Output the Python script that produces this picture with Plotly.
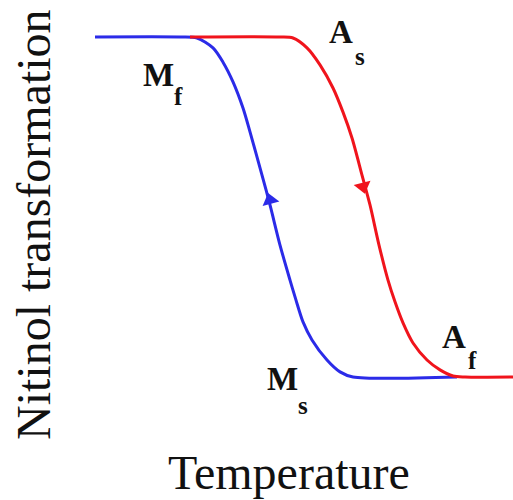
import plotly.graph_objects as go

# Cooling curve (martensite formation): temperature (arbitrary units), transformed fraction 0..1
cool_temp = [95, 180, 197, 213, 223, 233, 243, 250, 262, 270, 280, 290, 296, 303, 312, 327, 340, 353, 457]
cool_frac = [1.0, 1.0, 0.997, 0.968, 0.926, 0.868, 0.791, 0.721, 0.594, 0.506, 0.388, 0.285,
             0.226, 0.162, 0.109, 0.050, 0.015, 0.0, 0.0]

# Heating curve (austenite formation)
heat_temp = [190, 280, 293, 307, 320, 333, 343, 352, 362, 370, 379, 388, 395, 403, 413, 427, 440, 453, 465, 513]
heat_frac = [1.0, 1.0, 0.997, 0.968, 0.918, 0.850, 0.779, 0.703, 0.594, 0.506, 0.388, 0.285,
             0.221, 0.159, 0.100, 0.050, 0.021, 0.003, 0.0, 0.0]

# Direction arrows (temperature, fraction)
cool_arrow = (270, 0.52)
heat_arrow = (363, 0.56)

labels = ["M", "A", "M", "A"]
subs = ["f", "s", "s", "f"]

BLUE = "#2b2be8"
RED = "#f0141c"
FONT = "Liberation Serif, Times New Roman, serif"

fig = go.Figure()
fig.add_trace(go.Scatter(x=cool_temp, y=cool_frac, mode="lines",
                         line=dict(color=BLUE, width=3, shape="spline", smoothing=0.8),
                         hoverinfo="skip"))
fig.add_trace(go.Scatter(x=heat_temp, y=heat_frac, mode="lines",
                         line=dict(color=RED, width=3, shape="spline", smoothing=0.8),
                         hoverinfo="skip"))
fig.add_trace(go.Scatter(x=[cool_arrow[0]], y=[cool_arrow[1]], mode="markers",
                         marker=dict(symbol="triangle-up", size=15, color=BLUE, angle=-15),
                         hoverinfo="skip"))
fig.add_trace(go.Scatter(x=[heat_arrow[0]], y=[heat_arrow[1]], mode="markers",
                         marker=dict(symbol="triangle-down", size=15, color=RED, angle=-14),
                         hoverinfo="skip"))

# label placements (pixel coordinates on the 513x500 canvas)
main_pos = [(158, 75), (341, 32), (282, 379), (454, 337)]
sub_pos = [(178, 97), (360, 57), (303, 405), (472, 360)]

annotations = []
for (t, (px, py)) in zip(labels, main_pos):
    annotations.append(dict(text="<b>" + t + "</b>", x=px / 513, y=1 - py / 500, xref="paper", yref="paper",
                            showarrow=False, xanchor="center", yanchor="middle",
                            font=dict(family=FONT, size=33, color="#111")))
for (t, (px, py)) in zip(subs, sub_pos):
    annotations.append(dict(text="<b>" + t + "</b>", x=px / 513, y=1 - py / 500, xref="paper", yref="paper",
                            showarrow=False, xanchor="center", yanchor="middle",
                            font=dict(family=FONT, size=25, color="#111")))

annotations.append(dict(text="Nitinol transformation", x=34 / 513, y=1 - 225 / 500,
                        xref="paper", yref="paper", showarrow=False, textangle=-90,
                        xanchor="center", yanchor="middle",
                        font=dict(family=FONT, size=48, color="#111")))
annotations.append(dict(text="Temperature", x=289 / 513, y=1 - 472 / 500,
                        xref="paper", yref="paper", showarrow=False,
                        xanchor="center", yanchor="middle",
                        font=dict(family=FONT, size=48, color="#111")))

fig.update_layout(
    width=513, height=500,
    margin=dict(l=0, r=0, t=0, b=0),
    paper_bgcolor="white", plot_bgcolor="white",
    showlegend=False,
    xaxis=dict(range=[0, 513], visible=False, fixedrange=True),
    yaxis=dict(range=[-0.3618, 1.1088], visible=False, fixedrange=True),
    annotations=annotations,
)

fig.write_html("out.html", config={"displayModeBar": False},
               post_script="document.body.style.margin='0px';document.body.style.overflow='hidden';")
